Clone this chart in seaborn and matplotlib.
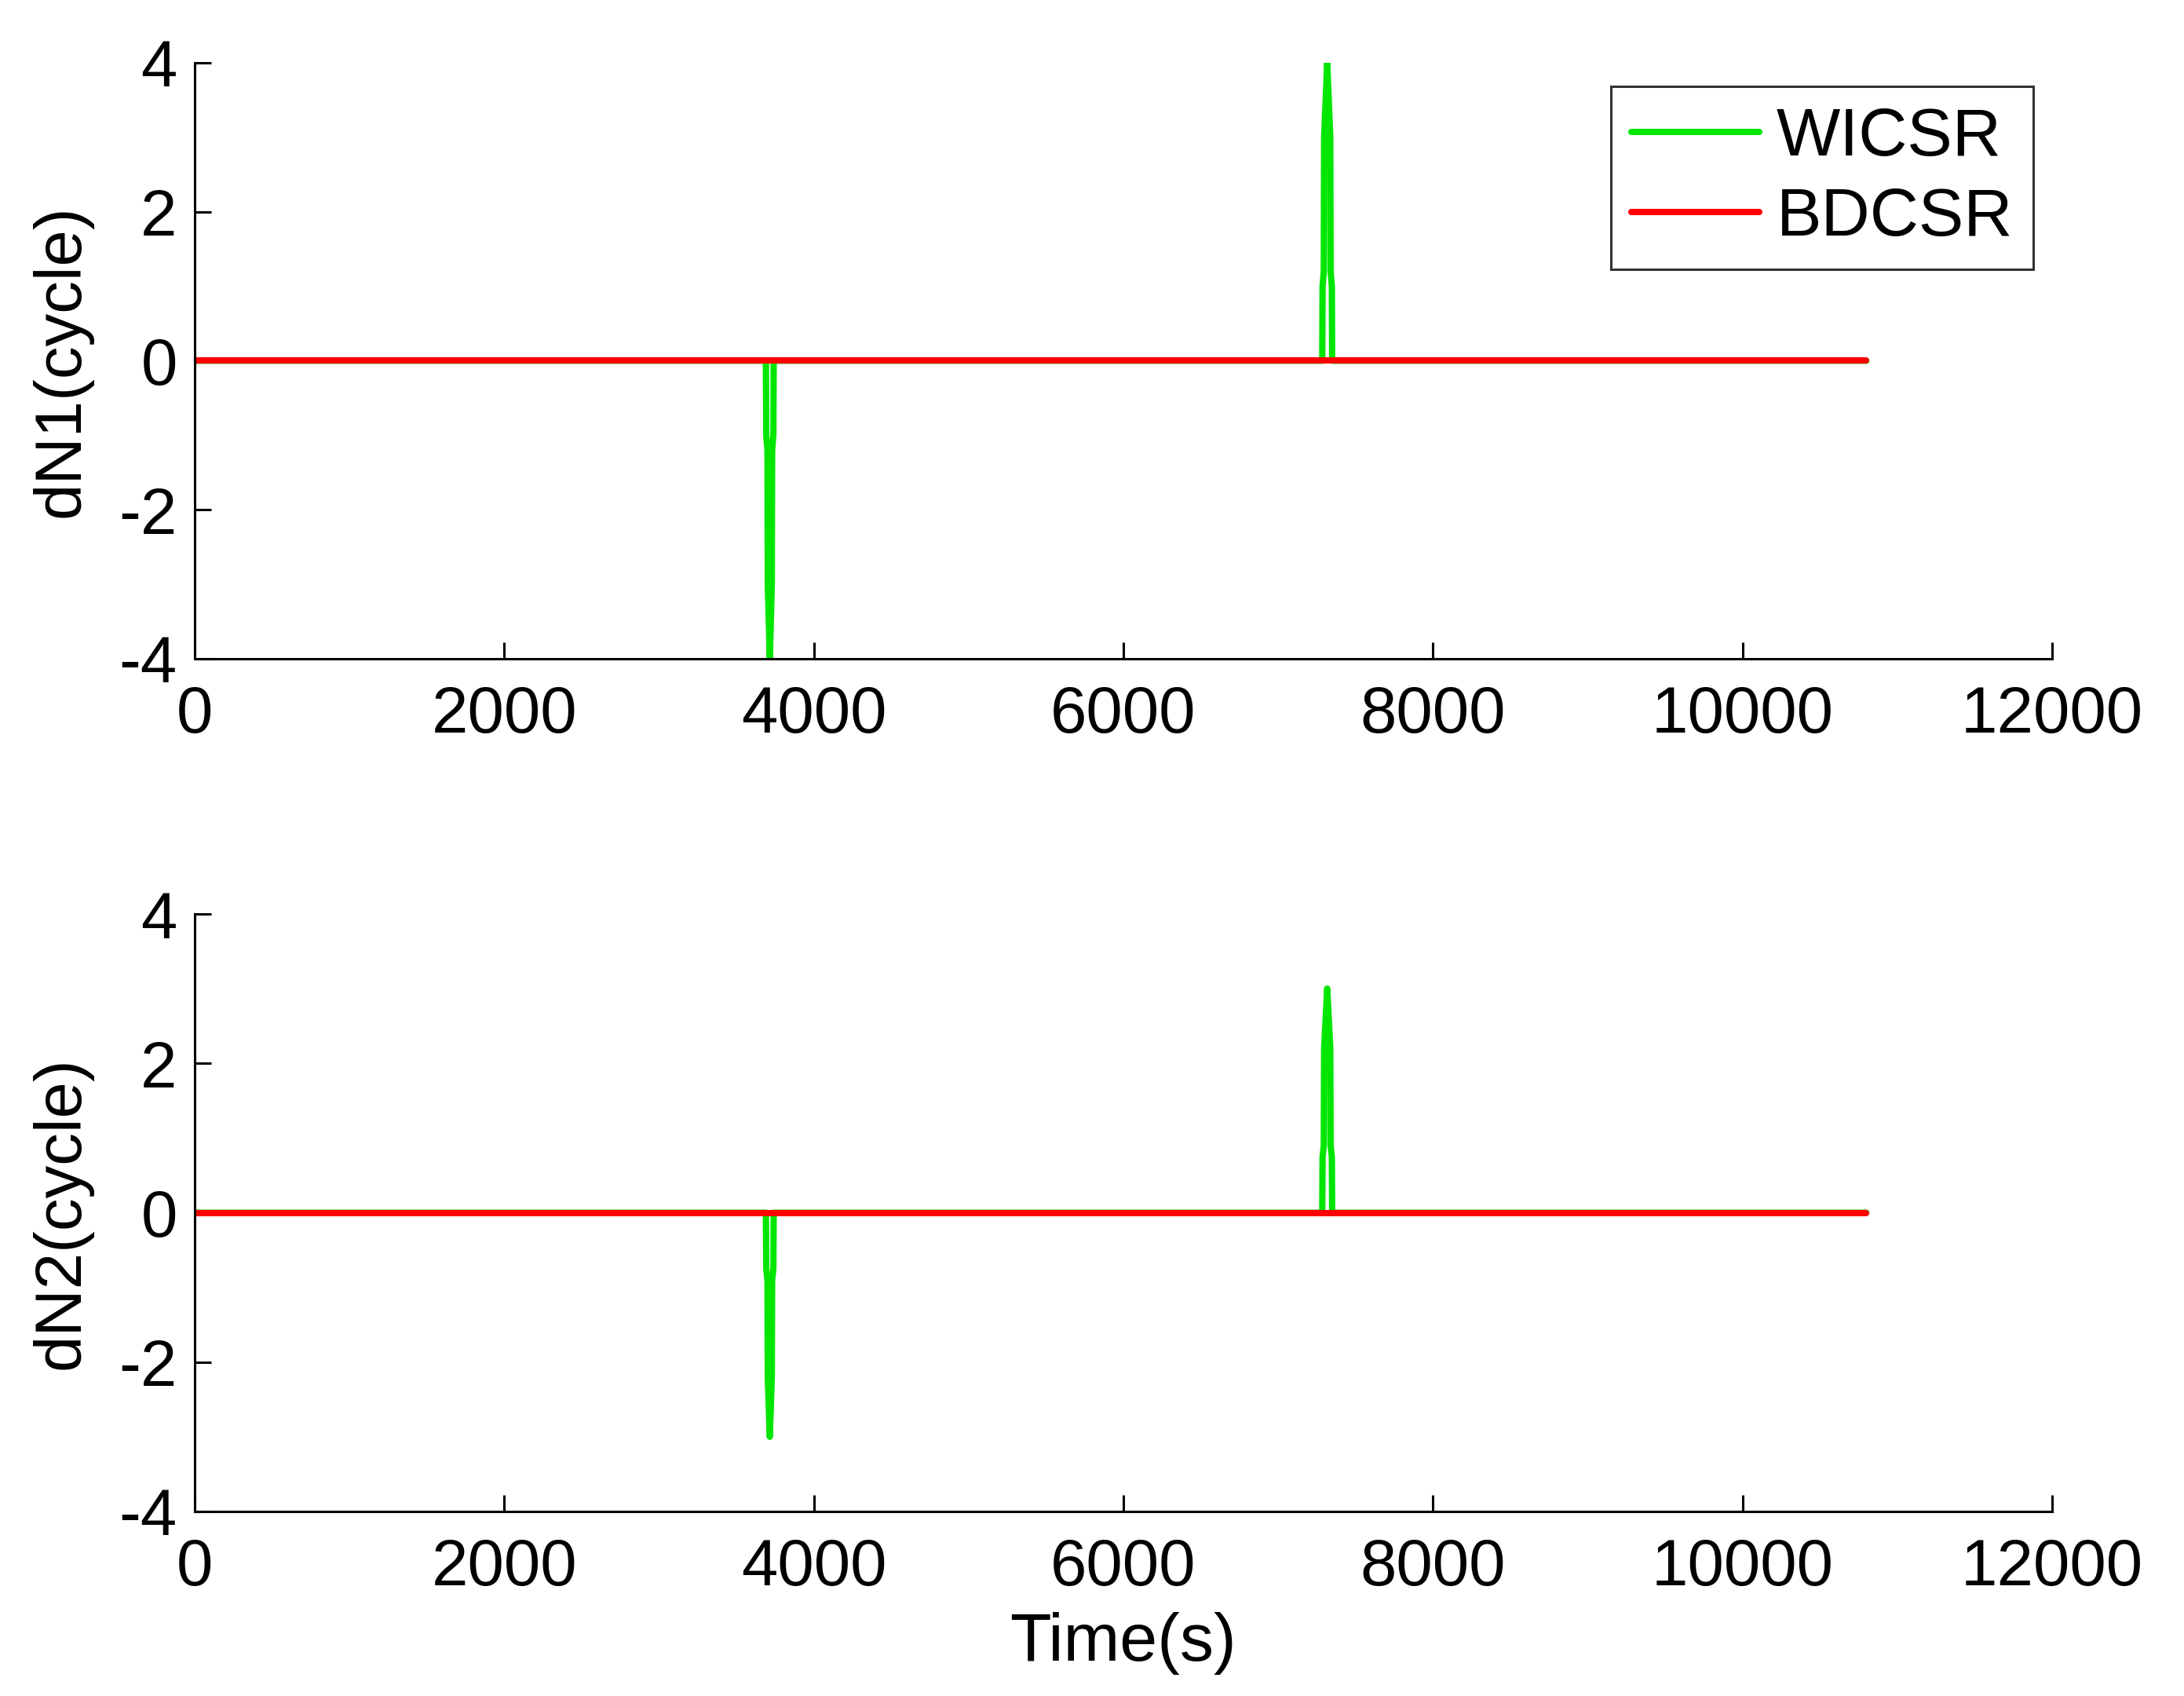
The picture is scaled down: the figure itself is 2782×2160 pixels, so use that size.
import numpy as np
import pandas as pd
import matplotlib
matplotlib.use("Agg")
import matplotlib.pyplot as plt
import seaborn as sns

# ---- data ----
t_wicsr = [0, 3691, 3693, 3701, 3703, 3716, 3729, 3731, 3739, 3741,
           7285, 7287, 7295, 7297, 7317, 7337, 7339, 7347, 7349, 10800]
dn1_wicsr = [0, 0, -1, -1.2, -3, -4, -3, -1.2, -1, 0,
             0, 1, 1.2, 3, 4, 3, 1.2, 1, 0, 0]
dn2_wicsr = [0, 0, -0.75, -0.9, -2.2, -3, -2.2, -0.9, -0.75, 0,
             0, 0.75, 0.9, 2.2, 3, 2.2, 0.9, 0.75, 0, 0]
t_bdcsr = [0, 10800]
dn1_bdcsr = [0, 0]
dn2_bdcsr = [0, 0]

methods = ["WICSR", "BDCSR"]
colors = {"WICSR": "#00e600", "BDCSR": "#ff0000"}
xticks = [0, 2000, 4000, 6000, 8000, 10000, 12000]
yticks = [-4, -2, 0, 2, 4]

sns.set_style("ticks")
plt.rcParams["font.family"] = ["Liberation Sans", "DejaVu Sans"]
plt.rcParams["axes.linewidth"] = 1.1
plt.rcParams["axes.edgecolor"] = "black"
plt.rcParams["text.color"] = "black"
plt.rcParams["axes.labelcolor"] = "black"
plt.rcParams["xtick.color"] = "black"
plt.rcParams["ytick.color"] = "black"

def make_df(tw, vw, tb, vb):
    return pd.concat([
        pd.DataFrame({"t": tw, "v": vw, "method": "WICSR"}),
        pd.DataFrame({"t": tb, "v": vb, "method": "BDCSR"}),
    ], ignore_index=True)

fig = plt.figure(figsize=(13.91, 10.8), dpi=200)
ax1 = fig.add_axes([0.0891, 0.6116, 0.8505, 0.3514])
ax2 = fig.add_axes([0.0891, 0.1088, 0.8505, 0.3523])

dfs = [make_df(t_wicsr, dn1_wicsr, t_bdcsr, dn1_bdcsr),
       make_df(t_wicsr, dn2_wicsr, t_bdcsr, dn2_bdcsr)]
ylabels = ["dN1(cycle)", "dN2(cycle)"]

for ax, df, yl in zip([ax1, ax2], dfs, ylabels):
    for m in methods:
        sub = df[df["method"] == m]
        sns.lineplot(data=sub, x="t", y="v", sort=False, estimator=None,
                     color=colors[m], linewidth=2.9, ax=ax, label=m, legend=False)
    ax.set_xlim(0, 12000)
    ax.set_ylim(-4, 4)
    ax.set_xticks(xticks)
    ax.set_yticks(yticks)
    ax.set_xticklabels([str(x) for x in xticks])
    ax.set_yticklabels([str(y) for y in yticks])
    ax.tick_params(direction="in", length=7.5, width=1.1, labelsize=30,
                   top=False, right=False, colors="black")
    ax.tick_params(axis="x", pad=12)
    ax.tick_params(axis="y", pad=8)
    ax.spines["top"].set_visible(False)
    ax.spines["right"].set_visible(False)
    ax.set_ylabel(yl, fontsize=30, labelpad=12, color="black")
    ax.set_xlabel("")

ax2.set_xlabel("Time(s)", fontsize=31, labelpad=6, color="black")

leg = ax1.legend(loc="upper right", bbox_to_anchor=(0.99, 0.96), fontsize=31,
                 frameon=True, fancybox=False, handlelength=1.9, handletextpad=0.25,
                 borderpad=0.3, labelspacing=0.25, borderaxespad=0)
leg.get_frame().set_edgecolor("black")
leg.get_frame().set_linewidth(1.1)
for txt in leg.get_texts():
    txt.set_color("black")

fig.savefig("out.png", dpi=200, facecolor="white")
